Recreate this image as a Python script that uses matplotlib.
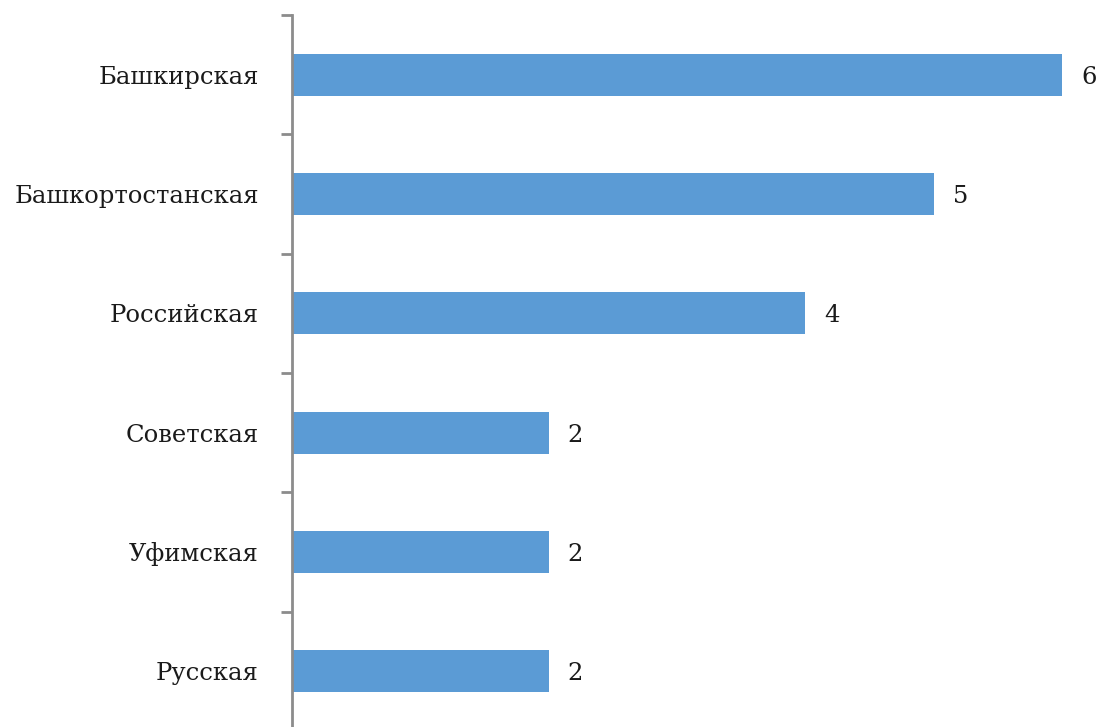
import numpy as np
import matplotlib
matplotlib.use('Agg')
import matplotlib.pyplot as plt

# categories from top to bottom
categories = ['Башкирская', 'Башкортостанская', 'Российская', 'Советская', 'Уфимская', 'Русская']
values = [6, 5, 4, 2, 2, 2]

bar_color = '#5B9BD5'
axis_color = '#8C8C8C'

plt.rcParams['font.family'] = ['DejaVu Serif']

fig = plt.figure(figsize=[10.99, 7.27], dpi=100)
# axes placed so that category boundaries match the reference
ax = fig.add_axes([292 / 1099, -4 / 727, 807 / 1099, 716 / 727])

y = np.arange(len(categories))
ax.barh(y, values, height=0.35, color=bar_color, zorder=2)

ax.set_ylim(len(categories) - 0.5, -0.5)
ax.set_xlim(0, 807 / 128.33)

# value labels
for yi, v in zip(y, values):
    ax.text(v + 19 / 128.33, yi + 0.02, str(v), va='center', ha='left', fontsize=17.5, color='#1a1a1a')

# category labels on major ticks, boundary ticks as minor
ax.set_yticks(y)
ax.set_yticklabels(categories, fontsize=17.5, color='#1a1a1a')
ax.tick_params(axis='y', which='major', length=0, pad=24)
ax.set_yticks(np.arange(-0.5, len(categories), 1.0), minor=True)
ax.tick_params(axis='y', which='minor', length=8, width=2, color=axis_color)

ax.set_xticks([])
for side in ['top', 'right', 'bottom']:
    ax.spines[side].set_visible(False)
ax.spines['left'].set_color(axis_color)
ax.spines['left'].set_linewidth(2)
ax.patch.set_alpha(0)

plt.savefig('out.png', dpi=100)
